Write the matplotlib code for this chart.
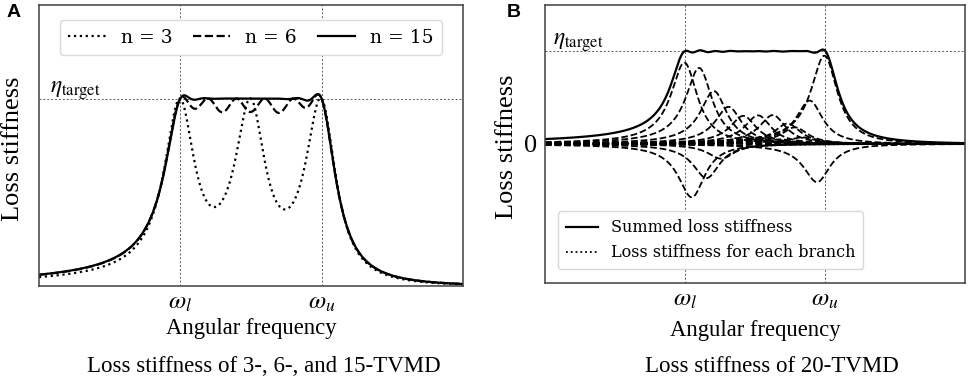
import numpy as np
import matplotlib
matplotlib.use("Agg")
import matplotlib.pyplot as plt
from matplotlib.ticker import NullLocator

plt.rcParams["mathtext.fontset"] = "stix"
plt.rcParams["font.family"] = "Liberation Serif"

# lower / upper bound of the target band (normalised), target loss stiffness
omega_l, omega_u = 1.0, 2.0
eta_target = 1.0

# branch damping ratio used for the sketches
zeta_a = 0.09
zeta_b = 0.08

# branch heights (peak loss stiffness of each branch, in units of eta_target)
heights_n3 = [0.897, 0.879, 0.956]
heights_n6 = [0.683, 0.516, 0.522, 0.532, 0.532, 0.799]
heights_n15 = [0.641, -0.023, 0.293, 0.156, 0.210, 0.187, 0.198, 0.191,
               0.203, 0.184, 0.232, 0.134, 0.368, -0.120, 0.812]

heights_20 = [0.876, -0.575, 0.819, -0.368, 0.570, -0.159, 0.400, -0.017, 0.303, 0.020,
              0.308, 0.006, 0.311, 0.050, 0.220, 0.179, 0.071, 0.467, -0.411, 0.951]

legend_a = ["n = 3", "n = 6", "n = 15"]
legend_b = ["Summed loss stiffness", "Loss stiffness for each branch"]


def branch(w, w0, z):
    # loss stiffness of one TVMD branch, peak value 1 at w0
    return 4 * z**2 * w0**3 * w / ((w0**2 - w**2) ** 2 + 4 * z**2 * w0**2 * w**2)


w = np.geomspace(0.5, 4.0, 1500)

fig = plt.figure(figsize=(9.69, 3.79), dpi=100)
ax_a = fig.add_axes([0.0402, 0.2454, 0.4376, 0.7416])
ax_b = fig.add_axes([0.5624, 0.2533, 0.4335, 0.7337])

ref_kw = dict(color="0.35", lw=0.7, ls=(0, (2, 2)), zorder=0.5)


def style_axis(ax, ylim):
    ax.set_xscale("log")
    ax.set_xlim(0.5, 4.0)
    ax.set_ylim(*ylim)
    ax.axvline(omega_l, **ref_kw)
    ax.axvline(omega_u, **ref_kw)
    ax.axhline(eta_target, **ref_kw)
    ax.xaxis.set_minor_locator(NullLocator())
    ax.set_xticks([omega_l, omega_u])
    ax.set_xticklabels([r"$\omega_l$", r"$\omega_u$"], fontsize=18)
    ax.tick_params(length=0, pad=4)
    for sp in ax.spines.values():
        sp.set_color("0.25")
        sp.set_linewidth(1.1)
    ax.set_ylabel("Loss stiffness", fontsize=19)
    ax.set_xlabel("Angular frequency", fontsize=16.3)


# panel A
styles = [":", "--", "-"]
for hs, ls, lab in zip([heights_n3, heights_n6, heights_n15], styles, legend_a):
    nodes = np.geomspace(omega_l, omega_u, len(hs))
    total = sum(h * branch(w, b, zeta_a) for h, b in zip(hs, nodes))
    ax_a.plot(w, total, color="black", ls=ls, lw=1.6, label=lab)
style_axis(ax_a, (0, 1.5))
ax_a.set_yticks([])
ax_a.yaxis.set_label_coords(-0.035, 0.49)
ax_a.xaxis.set_label_coords(0.5, -0.114)
ax_a.text(0.026, 1.03, r"$\eta_\mathrm{target}$", transform=ax_a.get_yaxis_transform(),
          fontsize=17, va="baseline")
ax_a.legend(ncol=3, loc="upper center", bbox_to_anchor=(0.5, 0.979),
            prop={"family": "DejaVu Serif", "size": 13.5}, columnspacing=1.1,
            borderpad=0.45, edgecolor="0.85", framealpha=1)

# panel B
nodes20 = np.geomspace(omega_l, omega_u, len(heights_20))
total = np.zeros_like(w)
for h, b in zip(heights_20, nodes20):
    curve = h * branch(w, b, zeta_b)
    total += curve
    ax_b.plot(w, curve, color="black", ls="--", lw=1.3)
ax_b.plot(w, total, color="black", lw=1.6)
style_axis(ax_b, (-1.5, 1.5))
ax_b.set_yticks([0])
ax_b.set_yticklabels(["0"], fontsize=19)
ax_b.tick_params(axis="y", pad=6)
ax_b.yaxis.set_label_coords(-0.064, 0.49)
ax_b.xaxis.set_label_coords(0.5, -0.133)
ax_b.text(0.02, 1.075, r"$\eta_\mathrm{target}$", transform=ax_b.get_yaxis_transform(),
          fontsize=17, va="baseline")
hb = [plt.Line2D([], [], color="black", lw=1.6),
      plt.Line2D([], [], color="black", lw=1.3, ls=":")]
ax_b.legend(hb, legend_b, loc="lower left", bbox_to_anchor=(0.012, 0.02),
            prop={"family": "DejaVu Serif", "size": 11.5}, borderpad=0.5,
            edgecolor="0.85", framealpha=1)

fig.text(0.272, 0.032, "Loss stiffness of 3-, 6-, and 15-TVMD", fontsize=16.5, ha="center", va="center")
fig.text(0.797, 0.032, "Loss stiffness of 20-TVMD", fontsize=16.5, ha="center", va="center")
fig.text(0.007, 0.99, "A", fontsize=14, fontweight="bold", family="Liberation Sans", va="top")
fig.text(0.523, 0.99, "B", fontsize=14, fontweight="bold", family="Liberation Sans", va="top")

fig.savefig("out.png", dpi=100)
